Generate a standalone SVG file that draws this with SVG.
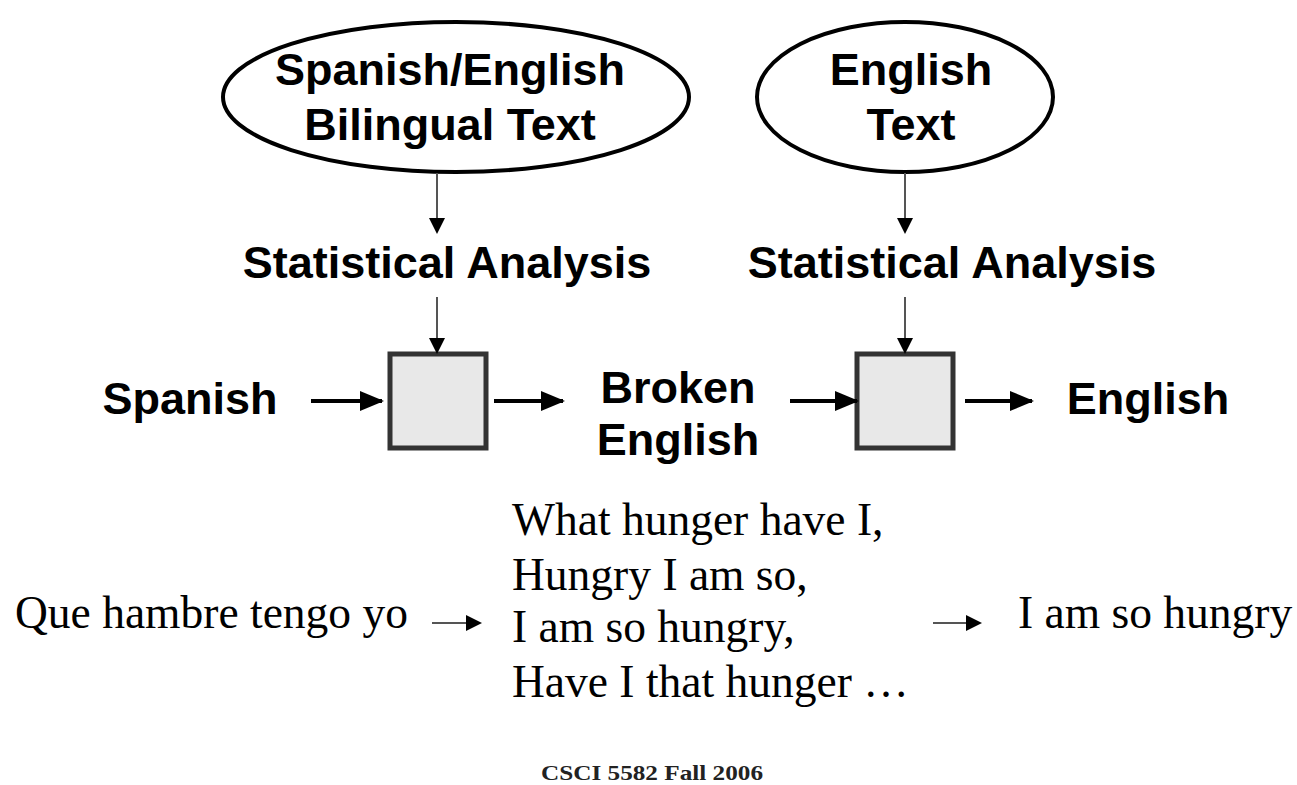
<svg xmlns="http://www.w3.org/2000/svg" width="1297" height="785" viewBox="0 0 1297 785">
<defs>
<style>
.lbl{font-family:"Liberation Sans",Arial,sans-serif;font-weight:bold;font-size:45px;fill:#000;text-anchor:middle}
.ser{font-family:"Liberation Serif","Times New Roman",serif;font-size:45.5px;fill:#000}
.ell{fill:#fff;stroke:#000;stroke-width:4}
.box{fill:#e8e8e8;stroke:#333;stroke-width:5}
.ln{stroke:#000;stroke-width:4;fill:none}
.thin{stroke:#555;stroke-width:2;fill:none}
</style>
<marker id="ah" markerWidth="6" markerHeight="5" refX="5.5" refY="2.5" orient="auto" markerUnits="strokeWidth"><path d="M0,0 L6,2.5 L0,5 Z" fill="#000"/></marker>
<marker id="ahs" markerWidth="8" markerHeight="8" refX="7" refY="4" orient="auto" markerUnits="strokeWidth"><path d="M0,0 L8,4 L0,8 Z" fill="#000"/></marker>
</defs>
<g id="src-bilingual"><ellipse class="ell" cx="456" cy="97" rx="233" ry="75"/><text class="lbl" x="450" y="85">Spanish/English</text><text class="lbl" x="450" y="140">Bilingual Text</text></g>
<g id="src-english"><ellipse class="ell" cx="905" cy="97" rx="148" ry="75"/><text class="lbl" x="911" y="85">English</text><text class="lbl" x="911" y="140">Text</text></g>
<g id="stat1"><text class="lbl" x="447" y="278">Statistical Analysis</text></g>
<g id="stat2"><text class="lbl" x="952" y="278">Statistical Analysis</text></g>
<g id="box1"><rect class="box" x="390" y="354" width="96" height="94"/></g>
<g id="box2"><rect class="box" x="857" y="354" width="96" height="94"/></g>
<g id="spanish"><text class="lbl" x="190" y="414">Spanish</text></g>
<g id="broken"><text class="lbl" x="678" y="403">Broken</text><text class="lbl" x="678" y="455">English</text></g>
<g id="english"><text class="lbl" x="1148" y="414">English</text></g>
<g id="ex-spanish"><text class="ser" x="15" y="628">Que hambre tengo yo</text></g>
<g id="ex-broken"><text class="ser" x="512" y="535">What hunger have I,</text><text class="ser" x="512" y="590">Hungry I am so,</text><text class="ser" x="512" y="642">I am so hungry,</text><text class="ser" x="512" y="697">Have I that hunger …</text></g>
<g id="ex-english"><text class="ser" x="1018" y="628">I am so hungry</text></g>
<g id="footer"><text x="541" y="780" textLength="222" lengthAdjust="spacingAndGlyphs" style="font-family:'Liberation Serif','Times New Roman',serif;font-weight:bold;font-size:22px;fill:#222">CSCI 5582 Fall 2006</text></g>
<g id="connectors">
<line class="thin" x1="437" y1="173" x2="437" y2="232" marker-end="url(#ahs)"/>
<line class="thin" x1="905" y1="173" x2="905" y2="232" marker-end="url(#ahs)"/>
<line class="thin" x1="437" y1="297" x2="437" y2="352" marker-end="url(#ahs)"/>
<line class="thin" x1="905" y1="297" x2="905" y2="352" marker-end="url(#ahs)"/>
<line class="ln" x1="311" y1="401" x2="382" y2="401" marker-end="url(#ah)"/>
<line class="ln" x1="494" y1="401" x2="563" y2="401" marker-end="url(#ah)"/>
<line class="ln" x1="790" y1="401" x2="857" y2="401" marker-end="url(#ah)"/>
<line class="ln" x1="965" y1="401" x2="1032" y2="401" marker-end="url(#ah)"/>
<line class="thin" x1="432" y1="623" x2="480" y2="623" marker-end="url(#ahs)"/>
<line class="thin" x1="933" y1="623" x2="980" y2="623" marker-end="url(#ahs)"/>
</g>
</svg>
